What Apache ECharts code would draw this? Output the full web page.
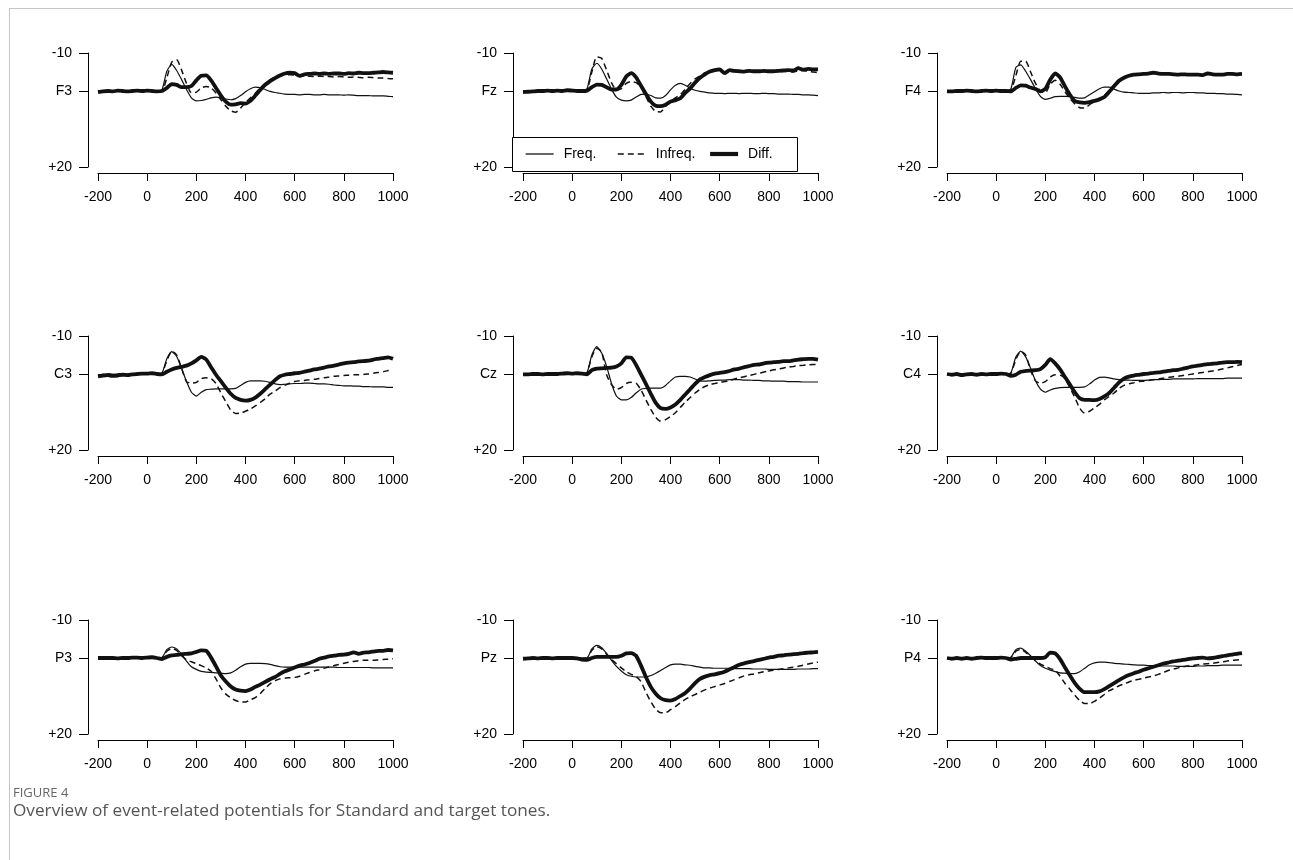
<!DOCTYPE html>
<html>
<head>
<meta charset="utf-8">
<script src="https://cdn.jsdelivr.net/npm/echarts@6/dist/echarts.min.js"></script>
<style>
  html, body { margin: 0; padding: 0; background: #fff; overflow: hidden; }
  #frame { position: absolute; left: 9px; top: 8px; width: 1300px; height: 870px;
           border-left: 1px solid #c4c4c4; border-top: 1px solid #c4c4c4; }
  #chart { position: absolute; left: 0; top: 0; width: 1293px; height: 860px; }
</style>
</head>
<body>
<div id="frame"></div>
<div id="chart"></div>
<script>
// Sample times in ms (stimulus onset at 0)
const times = [-200,-180,-160,-140,-120,-100,-80,-60,-40,-20,0,20,40,60,80,100,120,140,160,180,200,220,240,260,280,300,320,340,360,380,400,420,440,460,480,500,520,540,560,580,600,620,640,660,680,700,720,740,760,780,800,820,840,860,880,900,920,940,960,980,1000];

// Electrode sites, row by row
const electrodes = ['F3', 'Fz', 'F4', 'C3', 'Cz', 'C4', 'P3', 'Pz', 'P4'];

// Axis ticks
const xTicks = [-200, 0, 200, 400, 600, 800, 1000];
const yTicks = [-10, 0, 20];
const yTickText = ['-10', null, '+20'];   // middle tick shows the electrode name

// Grand-average amplitudes (µV); negative is plotted upward
const freqF3 = [0.1,0,0,0.1,0,-0.1,0,0,0.1,0, 0,0,0,-0.3,-5.2,-7.0,-5.4,-3.0,-0.4,1.8, 2.6,2.5,2.2,1.8,1.6,1.8,2.1,2.3,2.0,1.2, 0.2,-0.6,-1.0,-0.9,-0.4,0.1,0.4,0.6,0.8,0.9, 0.9,1.0,0.9,0.9,1.0,1.0,0.9,1.0,1.0,1.0, 1.1,1.0,1.1,1.2,1.2,1.2,1.3,1.3,1.3,1.4, 1.5];
const infreqF3 = [0,0.1,0,0,-0.1,0,0.1,0,0,0, 0,0,0,0,-3.5,-7.6,-8.2,-5.5,-2.0,0.5, 0.3,-0.8,-1.2,-0.8,0.5,2.3,4.0,5.2,5.6,4.5, 3.0,1.8,0.6,-0.8,-2.0,-3.0,-3.6,-4.0,-4.2,-4.3, -4.2,-3.8,-4.0,-3.9,-3.8,-3.9,-3.8,-3.8,-3.7,-3.8, -3.7,-3.6,-3.7,-3.6,-3.5,-3.6,-3.5,-3.4,-3.4,-3.3, -3.2];
const diffF3 = [0.3,0.1,0,0.1,-0.1,0,0.1,0,-0.1,0, -0.1,0,0.1,0,-0.8,-1.8,-1.6,-1.0,-1.0,-1.3, -2.8,-4.0,-4.1,-2.8,-0.8,1.2,2.8,3.6,3.5,3.2, 3.3,2.6,1.2,-0.3,-1.6,-2.6,-3.4,-4.1,-4.6,-4.8, -4.7,-4.0,-4.4,-4.5,-4.6,-4.5,-4.6,-4.5,-4.6,-4.6, -4.5,-4.7,-4.6,-4.8,-4.7,-4.7,-4.8,-4.9,-5.0,-4.9, -4.8];

const freqFz = [0,0.1,0,0,0.1,0,0,-0.1,0,0, 0,0,0,-0.5,-5.8,-7.3,-5.8,-3.2,-0.5,1.6, 2.4,2.6,2.4,1.6,0.9,0.8,1.2,1.8,1.9,1.2, -0.3,-1.5,-2.0,-1.5,-0.7,-0.2,0.1,0.3,0.5,0.6, 0.6,0.7,0.6,0.6,0.7,0.6,0.6,0.7,0.7,0.6, 0.7,0.7,0.8,0.8,0.8,0.9,0.9,1.0,1.0,1.1, 1.2];
const infreqFz = [0,0,0.1,0,0,0,0.1,0,0,0, 0,0,0,-0.2,-5.0,-9.0,-8.6,-5.5,-2.2,-0.2, -0.6,-2.0,-2.5,-2.2,-1.0,1.5,4.0,5.4,5.5,4.0, 2.8,1.8,1.0,-0.5,-2.0,-3.2,-4.0,-4.8,-5.2,-5.4, -5.5,-4.8,-5.2,-5.1,-5.0,-5.0,-5.1,-5.0,-5.0,-5.1, -5.0,-5.1,-5.0,-5.1,-5.2,-5.0,-5.3,-5.4,-5.2,-5.0, -4.8];
const diffFz = [0.3,0.2,0.1,0,0,-0.1,0,-0.1,0,-0.2, -0.1,0,0,-0.1,-1.0,-1.7,-1.6,-1.0,-0.4,-0.4, -1.6,-3.8,-4.7,-3.6,-1.4,0.8,2.8,3.9,4.0,3.6, 2.8,2.4,1.9,0.5,-0.7,-2.2,-3.5,-4.4,-5.1,-5.5, -5.7,-4.7,-5.5,-5.3,-5.2,-5.1,-5.3,-5.2,-5.2,-5.3, -5.2,-5.2,-5.3,-5.4,-5.5,-5.4,-6.0,-5.6,-5.8,-5.7, -5.7];

const freqF4 = [0,0,0.1,0,0,0,-0.1,0,0,0, 0,0,0,-0.6,-6.2,-6.9,-5.2,-3.0,-0.6,1.4, 2.2,1.9,1.5,1.4,1.4,1.5,1.7,1.9,1.8,1.0, 0.2,-0.6,-1.0,-1.0,-0.5,0,0.3,0.4,0.5,0.6, 0.6,0.6,0.5,0.5,0.4,0.5,0.4,0.4,0.5,0.4, 0.4,0.5,0.5,0.6,0.6,0.7,0.7,0.8,0.8,0.9, 1.0];
const infreqF4 = [0,0,0,0.1,0,0,0,0,0.1,0, 0,0,0,-0.2,-4.0,-7.8,-7.8,-5.0,-2.0,0, 0.5,-1.8,-2.8,-1.8,0.2,2.0,3.4,4.4,4.5,3.6, 2.8,2.0,1.2,-0.2,-1.6,-2.8,-3.6,-4.0,-4.2,-4.4, -4.5,-4.5,-4.6,-4.4,-4.4,-4.5,-4.4,-4.3,-4.4,-4.3, -4.3,-4.3,-4.2,-4.4,-4.5,-4.3,-4.3,-4.5,-4.5,-4.4, -4.4];
const diffF4 = [0.1,0.1,0,0,-0.1,0,0.1,0,-0.1,0, -0.1,0,0,0.1,-0.8,-1.5,-1.4,-0.9,-0.5,0.1, -0.6,-3.0,-4.6,-3.6,-1.2,1.0,2.6,3.0,3.1,2.9, 2.6,2.2,1.6,0.2,-1.3,-2.7,-3.5,-4.0,-4.3,-4.4, -4.5,-4.6,-4.8,-4.6,-4.5,-4.5,-4.4,-4.3,-4.4,-4.3, -4.3,-4.3,-4.2,-4.6,-4.4,-4.3,-4.3,-4.5,-4.5,-4.4, -4.5];

const freqC3 = [0.3,0.1,0,0.1,0,0,0,-0.1,0,0, 0,0,0,-0.2,-4.0,-5.9,-4.6,-1.5,2.0,4.8, 5.8,4.8,4.1,4.0,3.9,3.9,3.9,3.9,3.8,3.0, 2.2,1.8,1.8,1.8,1.9,2.2,2.6,2.8,2.7,2.6, 2.5,2.5,2.4,2.4,2.5,2.6,2.6,2.7,2.9,3.0, 3.1,3.1,3.2,3.2,3.3,3.3,3.4,3.4,3.4,3.5, 3.5];
const infreqC3 = [0.3,0.1,0,0.1,0,0,0,0,0,0, 0,0,0,-0.2,-3.5,-6.0,-5.0,-1.5,2.0,2.4, 2.2,1.2,1.0,1.2,2.5,5.0,7.3,9.5,10.4,10.3, 9.8,9.2,8.4,7.5,6.5,5.3,4.5,3.6,3.0,2.4, 2.0,1.8,1.7,1.5,1.4,1.2,1.0,0.8,0.6,0.5, 0.4,0.3,0.2,0.2,0.1,0,-0.2,-0.4,-0.6,-0.9, -1.2];
const diffC3 = [0.6,0.4,0.3,0.5,0.4,0.2,0.3,0.1,0,-0.1, -0.1,-0.2,0,0.1,-0.6,-1.2,-1.6,-1.9,-2.2,-2.8, -3.6,-4.5,-3.8,-1.8,0.2,1.9,3.6,5.2,6.3,6.8, 7.0,6.8,6.2,5.2,4.0,2.8,1.6,0.6,0.2,0, -0.2,-0.3,-0.6,-0.9,-1.2,-1.4,-1.7,-2.0,-2.2,-2.5, -2.8,-3.0,-3.1,-3.3,-3.4,-3.5,-3.8,-4.0,-4.2,-4.4, -4.0];

const freqCz = [0,0.1,0,0,0,0.1,0,0,0,0, 0,0,0,-0.3,-5.0,-7.2,-5.5,-2.0,2.5,5.8, 6.8,6.8,6.2,5.0,4.0,3.8,3.7,3.7,3.7,3.0, 1.8,0.8,0.6,0.6,0.8,1.3,1.8,1.9,1.8,1.7, 1.6,1.6,1.5,1.5,1.5,1.6,1.6,1.7,1.7,1.8, 1.8,1.9,1.9,1.9,2.0,2.0,2.0,2.1,2.1,2.1, 2.1];
const infreqCz = [0,0.1,0,0,0,0.1,0,0,0,0, 0,0,0,-0.3,-4.5,-6.8,-5.8,0.2,2.8,4.0, 3.6,2.5,2.2,2.4,4.2,6.8,9.3,11.4,12.4,12.0, 11.2,10.2,8.8,7.4,6.2,5.0,4.0,3.3,2.8,2.5, 2.2,2.0,1.7,1.3,1.0,0.7,0.4,0.1,-0.2,-0.5, -0.8,-1.1,-1.3,-1.6,-1.8,-2.0,-2.2,-2.3,-2.4,-2.5, -2.5];
const diffCz = [0.1,0.1,0,0,0.1,0,0,0,-0.1,-0.2, -0.1,-0.2,-0.1,0.1,-1.0,-1.4,-1.5,-1.6,-1.7,-2.0, -2.8,-4.4,-4.3,-2.4,0.1,2.6,5.2,7.6,9.0,9.2, 8.8,8.0,6.8,5.4,4.0,2.6,1.4,0.8,0.3,-0.1, -0.3,-0.5,-0.8,-1.2,-1.4,-1.8,-2.1,-2.4,-2.5,-2.8, -3.0,-3.1,-3.2,-3.4,-3.4,-3.6,-3.8,-3.9,-4.0,-4.0, -3.8];

const freqC4 = [0,0,0.1,0,0,0,0,0,0.1,0, 0,0,0,-0.3,-4.5,-6.0,-4.5,-1.5,1.8,4.0, 4.8,4.2,3.8,3.6,3.5,3.5,3.5,3.5,3.4,2.6, 1.6,0.9,0.8,1.0,1.3,1.5,1.6,1.6,1.7,1.7, 1.7,1.6,1.5,1.5,1.4,1.4,1.3,1.3,1.3,1.3, 1.3,1.2,1.2,1.2,1.2,1.2,1.2,1.1,1.1,1.1, 1.1];
const infreqC4 = [0,0,0.1,0,0,0,0,0,0.1,0, 0,0,0,-0.2,-3.8,-6.0,-5.0,-1.0,1.8,2.4, 2.0,0.8,0.2,0.3,1.2,3.6,6.2,9.0,10.3,9.8, 8.9,8.0,6.8,5.9,5.0,3.8,3.0,2.6,2.3,2.0, 1.9,1.7,1.5,1.3,1.1,0.9,0.7,0.6,0.4,0.2, 0,-0.2,-0.4,-0.6,-0.8,-1.0,-1.3,-1.6,-1.9,-2.2, -2.5];
const diffC4 = [0,0.2,0,0.3,0.1,0,0.2,0,0.1,0, 0,-0.1,0,0.5,0.2,-0.6,-0.8,-0.9,-1.0,-1.3, -2.4,-3.9,-2.8,-1.2,0.8,2.8,4.8,6.4,6.8,6.8, 6.9,6.6,5.9,5.0,3.6,2.2,1.2,0.7,0.4,0.2, 0,-0.1,-0.3,-0.4,-0.6,-0.8,-1.0,-1.1,-1.4,-1.7, -2.0,-2.2,-2.4,-2.6,-2.7,-2.8,-3.0,-3.1,-3.1,-3.2, -3.1];

const freqP3 = [0,0,0,0,0,0.1,0,0,0,0, 0,0,0,-0.1,-2.2,-2.9,-2.4,-1.0,0.8,2.3, 3.0,3.5,3.7,3.8,3.9,4.0,4.1,3.9,3.2,2.3, 1.6,1.4,1.4,1.4,1.5,1.7,2.0,2.3,2.4,2.4, 2.4,2.4,2.4,2.4,2.4,2.4,2.4,2.4,2.4,2.5, 2.5,2.5,2.5,2.5,2.5,2.5,2.6,2.6,2.6,2.6, 2.6];
const infreqP3 = [0,0,0,0,0,0.1,0,0,0,0, 0,0,0,-0.1,-1.8,-2.5,-2.0,-0.6,0.5,1.0, 1.5,2.0,2.6,3.5,5.5,7.9,9.5,10.5,11.2,11.6, 11.6,11.0,10.4,9.4,8.0,6.8,6.0,5.5,5.3,5.2, 5.1,4.8,4.3,3.8,3.4,3.1,2.7,2.3,2.0,1.7, 1.4,1.1,0.9,0.7,0.6,0.6,0.6,0.5,0.4,0.3, 0.2];
const diffP3 = [0,0,0,0,0.1,0,0,-0.1,-0.1,0, -0.1,-0.2,0,0.3,-0.3,-0.7,-0.8,-1.0,-1.1,-1.2, -1.6,-2.0,-1.9,-0.1,2.2,4.6,6.2,7.5,8.3,8.6, 8.7,8.3,7.6,7.0,6.3,5.6,5.0,4.2,3.5,3.0, 2.5,2.0,1.7,1.3,0.8,0.2,-0.1,-0.4,-0.6,-0.8, -0.9,-1.1,-1.5,-1.1,-1.4,-1.5,-1.7,-1.9,-1.9,-2.1, -2.0];

const freqPz = [0,0,0,0,0,0,0,0,0,0, 0,0,0,0,-2.4,-3.3,-2.7,-1.2,0.6,2.2, 3.4,4.4,4.8,5.0,5.0,5.0,4.6,4.0,3.3,2.5, 1.8,1.6,1.6,1.8,1.9,2.2,2.4,2.6,2.6,2.7, 2.7,2.7,2.7,2.8,2.8,2.8,2.8,2.9,2.9,2.9, 3.0,3.0,3.0,3.0,3.0,3.0,2.9,2.9,2.9,2.8, 2.8];
const infreqPz = [0,0,0,0,0,0,0,0,0,0, 0,0,0,0,-2.0,-3.0,-2.4,-1.0,0.4,1.5, 2.6,3.6,4.3,4.9,6.2,9.0,11.5,13.5,14.4,14.4, 13.6,12.8,11.8,10.9,10.2,9.6,9.0,8.4,7.9,7.5, 7.1,6.7,6.2,5.7,5.2,4.7,4.4,4.2,3.9,3.6, 3.4,3.2,3.0,2.8,2.6,2.4,2.2,1.9,1.6,1.3, 1.1];
const diffPz = [0.2,0.1,0,0.1,0,0,0.1,0,0,0, 0,0.1,0.4,0.5,0,-0.3,-0.3,-0.3,-0.3,-0.3, -0.6,-1.2,-1.3,-0.6,2.0,5.0,7.6,9.4,10.6,11.1, 11.2,10.8,10.0,9.2,8.0,6.6,5.5,4.9,4.5,4.3, 4.0,3.6,3.0,2.4,1.8,1.4,1.1,0.8,0.5,0.2, -0.1,-0.3,-0.6,-0.7,-0.9,-1.0,-1.1,-1.3,-1.4,-1.5, -1.6];

const freqP4 = [0,0,0,0,0,0,0,0,0,0, 0,0,0,-0.2,-2.2,-2.6,-1.8,-0.6,0.8,2.0, 2.7,3.2,3.6,3.9,4.0,4.1,4.1,3.6,2.7,1.8, 1.3,1.1,1.1,1.2,1.4,1.5,1.6,1.7,1.8,1.9, 1.9,2.0,2.0,2.0,2.1,2.1,2.1,2.2,2.2,2.2, 2.2,2.1,2.1,2.0,2.0,2.0,1.9,1.9,1.9,1.9, 1.9];
const infreqP4 = [0,0,0,0,0,0,0,0,0,0, 0,0,0,-0.1,-1.8,-2.3,-1.5,-0.4,0.7,1.6, 2.2,2.8,3.2,4.8,6.7,8.2,9.8,11.2,12.0,12.0, 11.4,10.6,9.6,8.6,8.0,7.3,6.8,6.3,5.9,5.6, 5.3,5.0,4.7,4.3,3.8,3.3,2.9,2.6,2.3,2.1, 2.0,1.8,1.6,1.5,1.4,1.2,1.0,0.8,0.6,0.5, 0.4];
const diffP4 = [0,0.2,0,0.2,0,0.2,0,-0.1,0,0, 0,-0.1,0,0.4,0.2,0,0,0,0,0, -0.2,-1.4,-1.2,0.3,2.5,4.6,6.6,8.1,9.0,9.0, 9.0,8.8,8.2,7.4,6.6,5.8,5.1,4.5,4.0,3.6, 3.1,2.7,2.3,1.9,1.5,1.2,0.9,0.7,0.5,0.3, 0.1,0,-0.1,0.1,0,-0.2,-0.5,-0.7,-0.9,-1.1, -1.3];

const waveforms = {
  F3: [freqF3, infreqF3, diffF3], Fz: [freqFz, infreqFz, diffFz], F4: [freqF4, infreqF4, diffF4],
  C3: [freqC3, infreqC3, diffC3], Cz: [freqCz, infreqCz, diffCz], C4: [freqC4, infreqC4, diffC4],
  P3: [freqP3, infreqP3, diffP3], Pz: [freqPz, infreqPz, diffPz], P4: [freqP4, infreqP4, diffP4]
};
const conditionNames = ['Freq.', 'Infreq.', 'Diff.'];

// ---- layout & styling ----
const FONT = '"Liberation Sans", Arial, Helvetica, sans-serif';
const colLeft = [98, 523, 947];
const rowTop = [53, 336, 620];
const panelW = 295, panelH = 114;
const conditionStyle = [
  { width: 1.2, type: 'solid' },
  { width: 1.5, type: [6, 4] },
  { width: 3.8, type: 'solid' }
];

const grids = [], xAxes = [], yAxes = [], series = [];

electrodes.forEach((site, k) => {
  const row = Math.floor(k / 3), col = k % 3;
  grids.push({ left: colLeft[col], top: rowTop[row], width: panelW, height: panelH, containLabel: false });

  // R-style detached axes: lines pulled away from the data region
  xAxes.push({
    type: 'value', gridIndex: k, min: -200, max: 1000, interval: 200,
    position: 'bottom', offset: 6,
    axisLine: { show: true, onZero: false, lineStyle: { color: '#000', width: 1 } },
    axisTick: { show: true, inside: false, length: 8, lineStyle: { color: '#000', width: 1 }, customValues: xTicks },
    axisLabel: { show: true, margin: 17, fontFamily: FONT, fontSize: 14, color: '#000',
                 customValues: xTicks, showMinLabel: true, showMaxLabel: true,
                 formatter: v => String(v) },
    splitLine: { show: false }
  });

  yAxes.push({
    type: 'value', gridIndex: k, min: -10, max: 20, inverse: true,
    position: 'left', offset: 10,
    axisLine: { show: true, onZero: false, lineStyle: { color: '#000', width: 1 } },
    axisTick: { show: true, length: 9, lineStyle: { color: '#000', width: 1 }, customValues: yTicks },
    axisLabel: {
      show: true, margin: 16, fontFamily: FONT, fontSize: 14, color: '#000',
      customValues: yTicks,
      formatter: v => { const i = yTicks.indexOf(v); return yTickText[i] === null ? site : yTickText[i]; }
    },
    splitLine: { show: false }
  });

  waveforms[site].forEach((vals, c) => {
    series.push({
      type: 'line', name: conditionNames[c],
      xAxisIndex: k, yAxisIndex: k,
      data: times.map((t, i) => [t, vals[i]]),
      symbol: 'none', showSymbol: false, smooth: 0.2,
      lineStyle: { color: '#111', width: conditionStyle[c].width, type: conditionStyle[c].type },
      z: 2 + c, silent: true
    });
  });
});

// Key placed in the bottom-left corner of the Fz panel, one entry per condition
const keyLeft = [525, 617, 708];
const legends = conditionNames.map((name, c) => ({
  left: keyLeft[c], top: 147, padding: 0,
  itemWidth: 28, itemHeight: 14,
  selectedMode: false,
  textStyle: { fontFamily: FONT, fontSize: 14, color: '#000', padding: [0, 0, 0, 5] },
  itemStyle: { opacity: 0 },
  data: [{ name: name, lineStyle: { width: conditionStyle[c].width + (c === 2 ? 0.4 : 0.1),
                                    type: conditionStyle[c].type, color: '#111' } }]
}));

const chart = echarts.init(document.getElementById('chart'), null, { renderer: 'canvas' });
chart.setOption({
  animation: false,
  backgroundColor: 'transparent',
  grid: grids, xAxis: xAxes, yAxis: yAxes, series: series,
  legend: legends,
  graphic: [{
    type: 'rect', z: 3, silent: true,
    shape: { x: 512.5, y: 137.5, width: 285, height: 34 },
    style: { fill: '#fff', stroke: '#000', lineWidth: 1 }
  }],
  title: [
    { text: 'FIGURE 4', left: 13, top: 787, padding: 0,
      textStyle: { fontFamily: '"Open Sans", sans-serif', fontSize: 13, fontWeight: 'normal', color: '#666' } },
    { text: 'Overview of event-related potentials for Standard and target tones.', left: 13, top: 803, padding: 0,
      textStyle: { fontFamily: '"Open Sans", sans-serif', fontSize: 17.2, fontWeight: 'normal', color: '#555' } }
  ]
});
</script>
</body>
</html>
